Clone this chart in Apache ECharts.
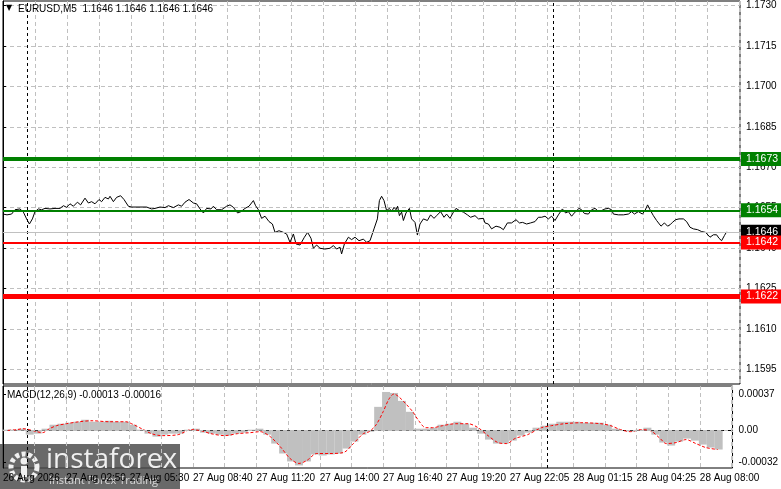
<!DOCTYPE html>
<html>
<head>
<meta charset="utf-8">
<script src="https://cdn.jsdelivr.net/npm/echarts@6/dist/echarts.min.js"></script>
<style>
html, body { margin: 0; padding: 0; background: #fff; }
#chart { width: 781px; height: 489px; }
</style>
</head>
<body>
<div id="chart"></div>
<script>
// EURUSD M5, bar index (5 min each) and close price
var priceBars = [0, 2, 4.3, 6, 6.8, 8.5, 10.2, 11.8, 13.2, 14.7, 16, 17.7, 19.3, 21, 23.5, 26, 28.5, 30.2, 31.8, 33.5,
	35.2, 37.2, 38.8, 41, 42.7, 44.3, 46, 48, 49.3, 51, 52.7, 53.5, 55.2, 56.8, 58.8, 60.5, 62.7, 64.3, 71.8, 74.3,
	76, 78.5, 81, 82.7, 85.2, 87.7, 89.3, 91, 93, 95.2, 96.8, 98.5, 100.2, 101.8, 104, 105.2, 106.8, 109.3, 109.7, 111.8,
	113.5, 115.2, 117.3, 119, 121, 123, 125.2, 126.3, 127.7, 129.3, 131, 133, 134.7, 136, 138, 140.2, 141.8, 143.5, 145.2, 146.5,
	148.5, 150.7, 152.3, 154, 155.2, 156.8, 158.5, 161, 163.5, 165.2, 166.8, 168.5, 169.3, 170.7, 172.7, 174.3, 176, 178, 180.2, 181.8,
	183.5, 185.5, 187.2, 188.2, 189.3, 190.5, 191.8, 193.2, 194.3, 195.5, 196.5, 197.3, 198.2, 199.3, 200.2, 201.5, 203.2, 204.3, 206, 207.2,
	208.5, 210.2, 212.2, 213.8, 215.5, 216.8, 218.8, 220.5, 221.8, 223.5, 225.2, 226.5, 228.2, 230.2, 232.2, 233.8, 236, 237.7, 240.2, 241,
	242.7, 244.3, 246.5, 248.5, 250.2, 252.2, 254.3, 256.5, 258.2, 259.8, 261.8, 263.8, 266, 267.7, 269.3, 271, 272.7, 274.3, 276, 277.7,
	279.7, 281.3, 282.7, 284.3, 286, 288, 289.3, 290.7, 292.7, 294.3, 296, 297.3, 299.3, 301, 302.7, 304.3, 305.2, 307.7, 310.2, 312.7,
	314.3, 315.7, 317.7, 319.7, 321, 322.3, 323.5, 325.2, 326.8, 329, 330.7, 332.3, 333.5, 334.7, 336.3, 338, 340.2, 341.8, 343.5, 345.2,
	347.3, 349.3, 351.3, 353.5, 355.2, 356.8, 358, 359.3, 360.7, 361.8];
var priceValues = [1.16526, 1.16523, 1.16526, 1.16542, 1.16547, 1.16545, 1.16533, 1.16508, 1.16489, 1.16508, 1.16535, 1.16545, 1.16542, 1.16547, 1.16545, 1.16547, 1.16547, 1.16557, 1.16551, 1.16564,
	1.16555, 1.16570, 1.16560, 1.16585, 1.16567, 1.16572, 1.16564, 1.16580, 1.16572, 1.16588, 1.16582, 1.16592, 1.16572, 1.16588, 1.16594, 1.16580, 1.16555, 1.16552, 1.16552, 1.16545,
	1.16547, 1.16552, 1.16550, 1.16557, 1.16550, 1.16560, 1.16555, 1.16570, 1.16580, 1.16567, 1.16564, 1.16545, 1.16530, 1.16547, 1.16545, 1.16555, 1.16542, 1.16542, 1.16535, 1.16555,
	1.16560, 1.16551, 1.16530, 1.16535, 1.16547, 1.16555, 1.16576, 1.16557, 1.16542, 1.16510, 1.16518, 1.16498, 1.16489, 1.16458, 1.16464, 1.16458, 1.16452, 1.16421, 1.16452, 1.16415,
	1.16411, 1.16440, 1.16458, 1.16436, 1.16399, 1.16411, 1.16399, 1.16396, 1.16399, 1.16409, 1.16396, 1.16403, 1.16378, 1.16415, 1.16440, 1.16431, 1.16440, 1.16427, 1.16433, 1.16421,
	1.16427, 1.16471, 1.16508, 1.16576, 1.16592, 1.16576, 1.16539, 1.16547, 1.16535, 1.16551, 1.16542, 1.16555, 1.16520, 1.16533, 1.16502, 1.16530, 1.16547, 1.16508, 1.16495, 1.16448,
	1.16489, 1.16508, 1.16502, 1.16523, 1.16510, 1.16520, 1.16535, 1.16514, 1.16526, 1.16510, 1.16533, 1.16547, 1.16539, 1.16533, 1.16523, 1.16514, 1.16520, 1.16508, 1.16510, 1.16493,
	1.16489, 1.16471, 1.16481, 1.16477, 1.16468, 1.16493, 1.16493, 1.16505, 1.16493, 1.16495, 1.16489, 1.16493, 1.16498, 1.16514, 1.16514, 1.16518, 1.16508, 1.16518, 1.16502, 1.16523,
	1.16545, 1.16530, 1.16535, 1.16518, 1.16533, 1.16547, 1.16542, 1.16528, 1.16526, 1.16542, 1.16547, 1.16539, 1.16539, 1.16545, 1.16547, 1.16542, 1.16526, 1.16523, 1.16523, 1.16526,
	1.16535, 1.16526, 1.16535, 1.16526, 1.16539, 1.16560, 1.16542, 1.16520, 1.16502, 1.16481, 1.16493, 1.16481, 1.16486, 1.16495, 1.16505, 1.16508, 1.16508, 1.16498, 1.16477, 1.16471,
	1.16468, 1.16461, 1.16458, 1.16440, 1.16449, 1.16449, 1.16436, 1.16427, 1.16446, 1.16460];

var priceTicks = [1.1595, 1.1610, 1.1625, 1.1640, 1.1655, 1.1670, 1.1685, 1.1700, 1.1715, 1.1730];
var timeLabels = ['26 Aug 2026', '27 Aug 02:50', '27 Aug 05:30', '27 Aug 08:40', '27 Aug 11:20', '27 Aug 14:00',
	'27 Aug 16:40', '27 Aug 19:20', '27 Aug 22:05', '28 Aug 01:15', '28 Aug 04:25', '28 Aug 08:00'];

// support / resistance levels
var buyLevels = [1.1673, 1.1654];
var sellLevels = [1.1642, 1.1622];
var lastPrice = 1.1646;
var separatorBars = [12, 275];

// MACD(12,26,9): histogram every 4 bars, signal line points
var macdHist = [0.00001, 0.00001, 0.00002, -0.00004, -0.00003, 0.00002, 0.00006, 0.00007, 0.00008, 0.00009,
	0.00011, 0.00009, 0.00009, 0.00010, 0.00009, 0.00009, 0.00006, 0.00001, -0.00003, -0.00006,
	-0.00004, -0.00003, -0.00003, 0.00001, 0.00002, -0.00002, -0.00003, -0.00004, -0.00005, -0.00003,
	-0.00002, 0.00001, 0.00002, -0.00004, -0.00013, -0.00023, -0.00031, -0.00035, -0.00031, -0.00024,
	-0.00025, -0.00024, -0.00023, -0.00018, -0.00011, -0.00004, -0.00001, 0.00024, 0.00039, 0.00038,
	0.00030, 0.00019, 0.00002, 0.00002, 0.00003, 0.00006, 0.00007, 0.00009, 0.00007, 0.00003,
	-0.00003, -0.00009, -0.00013, -0.00013, -0.00010, -0.00005, -0.00002, 0.00003, 0.00005, 0.00007,
	0.00009, 0.00009, 0.00009, 0.00008, 0.00008, 0.00008, 0.00006, 0.00002, 0.00000, -0.00001,
	0.00001, 0.00003, -0.00004, -0.00012, -0.00015, -0.00011, -0.00008, -0.00010, -0.00014, -0.00017,
	-0.00019];
var signalBars = [0, 7, 10, 13.5, 17, 20, 23.5, 27, 32, 38.5, 45, 53.5, 62, 65, 70, 75, 80, 88.5, 95, 100,
	105, 112, 118.5, 125, 130, 135, 140, 145, 149.5, 153.5, 158.5, 165, 172, 177, 182, 185, 188.5, 192, 195, 197.5,
	200, 203.5, 207, 210, 213.5, 217, 222, 228.5, 235, 240, 245, 250, 254.5, 258.5, 265, 272, 277, 283.5, 292, 302,
	307, 312, 317, 322, 327, 332, 335, 340, 345, 350, 355, 361];
var signalValues = [0, 0.00001, 0.00002, 0.00001, -0.00001, -0.00002, 0.00002, 0.00005, 0.00007, 0.00009,
	0.00010, 0.00009, 0.00009, 0.00007, 0.00002, -0.00003, -0.00005, -0.00004, 0.00001, 0.00000,
	-0.00003, -0.00005, -0.00003, -0.00002, -0.00001, -0.00006, -0.00016, -0.00028, -0.00033, -0.00030,
	-0.00023, -0.00023, -0.00022, -0.00013, -0.00003, -0.00001, 0.00006, 0.00019, 0.00032, 0.00037,
	0.00034, 0.00027, 0.00019, 0.00010, 0.00003, 0.00003, 0.00005, 0.00007, 0.00007, 0.00003,
	-0.00005, -0.00012, -0.00013, -0.00008, -0.00004, 0.00003, 0.00005, 0.00007, 0.00008, 0.00007,
	0.00005, 0.00001, -0.00001, 0.00001, 0.00000, -0.00008, -0.00013, -0.00012, -0.00009, -0.00013,
	-0.00017, -0.00019];
var macdTicks = [-0.00032, 0, 0.00037];

var FONT = 'Liberation Sans';
var GRID_LINE = { color: '#c0c0c0', type: [4, 3], width: 1 };

function zip(xs, ys) {
	return xs.map(function(x, i) { return [x, ys[i]]; });
}

function levelLine(value, color, width, boxColor) {
	return {
		yAxis: value,
		lineStyle: { color: color, width: width, type: 'solid' },
		label: {
			show: true,
			position: 'end',
			distance: 1,
			formatter: value.toFixed(4),
			color: '#fff',
			backgroundColor: boxColor,
			padding: [2, 5, 1, 5],
			fontFamily: FONT,
			fontSize: 10.5
		}
	};
}

function separatorLines() {
	return separatorBars.map(function(b) {
		return {
			xAxis: b,
			lineStyle: { color: '#000', width: 1, type: [3, 3] },
			label: { show: false }
		};
	});
}

var chart = echarts.init(document.getElementById('chart'));

var priceMarks = separatorLines().concat([
	levelLine(lastPrice, '#c0c0c0', 1, '#000'),
	levelLine(buyLevels[0], '#008000', 4, '#008000'),
	levelLine(buyLevels[1], '#008000', 2, '#008000'),
	levelLine(sellLevels[0], '#ff0000', 2, '#ff0000'),
	levelLine(sellLevels[1], '#ff0000', 5, '#ff0000')
]);

var xBase = {
	type: 'value',
	min: 0,
	max: 368.5,
	interval: 16,
	splitLine: { show: true, lineStyle: GRID_LINE },
	axisTick: { show: false }
};

var option = {
	animation: false,
	backgroundColor: '#fff',
	grid: [{
		left: 3, right: 41, top: 1, height: 383,
		show: true, borderColor: '#000', borderWidth: 1, backgroundColor: '#fff'
	}, {
		left: 3, right: 41, top: 386, bottom: 21,
		show: true, borderColor: '#000', borderWidth: 1, backgroundColor: '#fff'
	}],
	xAxis: [
		Object.assign({}, xBase, {
			gridIndex: 0,
			axisLine: { show: false },
			axisLabel: { show: false }
		}),
		Object.assign({}, xBase, {
			gridIndex: 1,
			axisLine: { show: true, lineStyle: { color: '#000' } },
			axisLabel: {
				show: true,
				align: 'left',
				margin: 5,
				color: '#000',
				fontFamily: FONT,
				fontSize: 10,
				showMaxLabel: false,
				formatter: function(v) {
					if (v % 32 !== 0) return '';
					return timeLabels[v / 32] || '';
				}
			}
		})
	],
	yAxis: [{
		gridIndex: 0,
		type: 'value',
		position: 'right',
		min: 1.15895,
		max: 1.17317,
		axisLine: { show: true, lineStyle: { color: '#000' } },
		axisTick: { show: true, customValues: priceTicks, length: 3, lineStyle: { color: '#000' } },
		axisLabel: {
			customValues: priceTicks,
			margin: 6,
			color: '#000',
			fontFamily: FONT,
			fontSize: 10,
			formatter: function(v) { return v.toFixed(4); }
		},
		splitLine: { show: true, lineStyle: GRID_LINE }
	}, {
		gridIndex: 1,
		type: 'value',
		position: 'right',
		min: -0.000376,
		max: 0.00045,
		axisLine: { show: true, lineStyle: { color: '#000' } },
		axisTick: { show: true, customValues: macdTicks, length: 3, lineStyle: { color: '#000' } },
		axisLabel: {
			customValues: macdTicks,
			margin: 6,
			color: '#000',
			fontFamily: FONT,
			fontSize: 10,
			formatter: function(v) { return v === 0 ? '0.00' : v.toFixed(5); }
		},
		splitLine: { show: false }
	}],
	series: [{
		name: 'EURUSD',
		type: 'line',
		xAxisIndex: 0,
		yAxisIndex: 0,
		data: zip(priceBars, priceValues),
		showSymbol: false,
		lineStyle: { color: '#000', width: 1 },
		z: 4,
		markLine: {
			silent: true,
			precision: 5,
			symbol: ['none', 'none'],
			animation: false,
			data: priceMarks
		}
	}, {
		name: 'MACD',
		type: 'bar',
		xAxisIndex: 1,
		yAxisIndex: 1,
		barWidth: 8,
		itemStyle: { color: '#c0c0c0' },
		data: macdHist.map(function(v, i) { return [i * 4 + 1.5, v]; })
	}, {
		name: 'Signal',
		type: 'line',
		xAxisIndex: 1,
		yAxisIndex: 1,
		data: zip(signalBars, signalValues),
		showSymbol: false,
		smooth: 0.3,
		lineStyle: { color: '#ff0000', width: 1, type: [3, 2] },
		z: 4,
		markLine: {
			silent: true,
			precision: 6,
			symbol: ['none', 'none'],
			animation: false,
			data: separatorLines().concat([{
				yAxis: 0,
				lineStyle: { color: '#c0c0c0', width: 1, type: [4, 3] },
				label: { show: false }
			}])
		}
	}],
	graphic: [{
		type: 'text', left: 6, top: 4, z: 10,
		style: { text: '▼', fill: '#000', font: '8px "DejaVu Sans"' }
	}, {
		type: 'text', left: 18, top: 4, z: 10,
		style: { text: 'EURUSD,M5  1.1646 1.1646 1.1646 1.1646', fill: '#000', font: '10px "' + FONT + '"' }
	}, {
		type: 'text', left: 7, top: 390, z: 10,
		style: { text: 'MACD(12,26,9) -0.00013 -0.00016', fill: '#000', font: '10px "' + FONT + '"' }
	}, {
		// instaforex watermark
		type: 'group', left: 0, top: 444, z: 20,
		children: [{
			type: 'rect',
			shape: { x: 0, y: 0, width: 180, height: 45 },
			style: { fill: 'rgba(72,72,72,0.82)' }
		}, {
			type: 'circle',
			shape: { cx: 24, cy: 23, r: 13 },
			style: { fill: 'none', stroke: '#f0f0f0', lineWidth: 5, lineDash: [4, 2.5] }
		}, {
			type: 'circle',
			shape: { cx: 24, cy: 17, r: 3.5 },
			style: { fill: '#f0f0f0' }
		}, {
			type: 'rect',
			shape: { x: 21, y: 22, width: 6, height: 11 },
			style: { fill: '#f0f0f0' }
		}, {
			type: 'text',
			x: 46, y: 2,
			style: { text: 'instaforex', fill: 'rgba(255,255,255,0.9)', font: '28px "Open Sans"' }
		}, {
			type: 'text',
			x: 49, y: 31,
			style: { text: 'Instant Forex Trading', fill: 'rgba(235,235,235,0.85)', font: '11px "Open Sans"' }
		}]
	}]
};

chart.setOption(option);
</script>
</body>
</html>
